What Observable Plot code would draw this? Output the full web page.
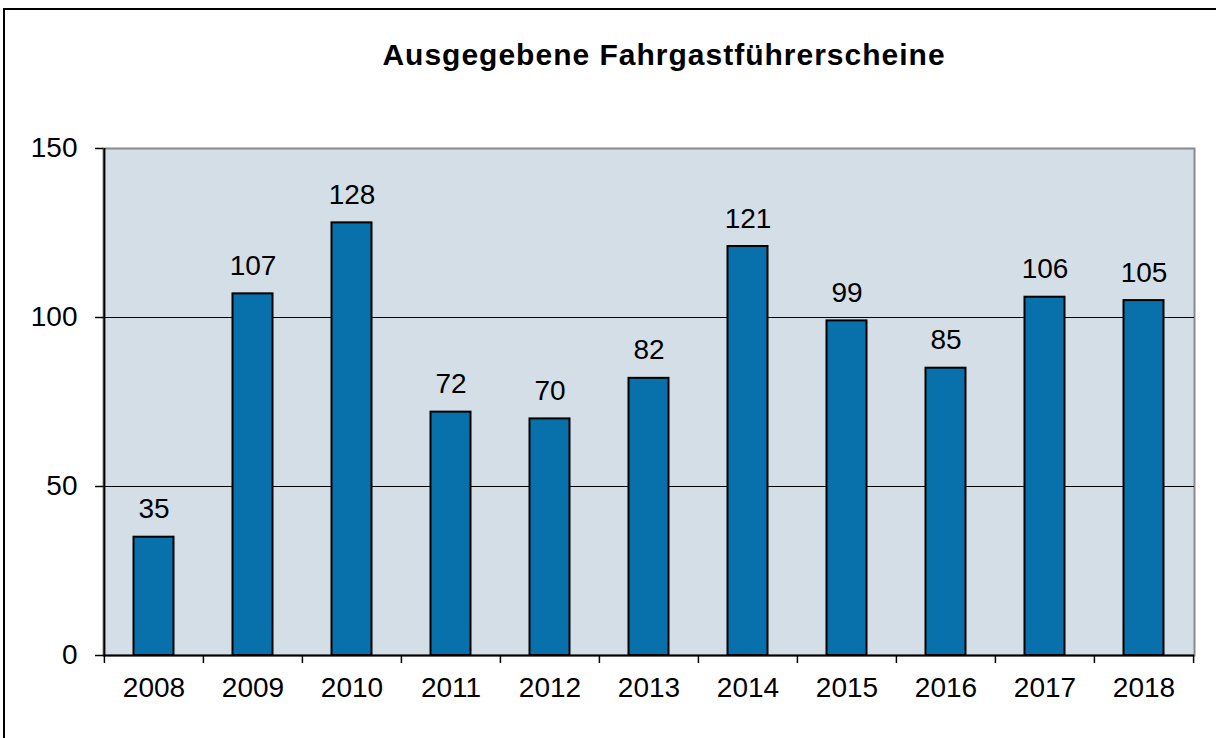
<!DOCTYPE html>
<html>
<head>
<meta charset="utf-8">
<script src="https://cdn.jsdelivr.net/npm/d3@7"></script>
<script src="https://cdn.jsdelivr.net/npm/@observablehq/plot@0.6"></script>
<style>
  html, body { margin: 0; padding: 0; background: #fff; }
  #wrap { position: relative; width: 1216px; height: 738px; overflow: hidden; font-family: "Liberation Sans", Arial, sans-serif; }
  #frame { position: absolute; left: 3px; top: 8px; width: 1240px; height: 760px; border-top: 2px solid #000; border-left: 2px solid #000; }
  #title { position: absolute; left: 0; width: 1328px; top: 40px; line-height: 30px; text-align: center; font-weight: bold; font-size: 30px; letter-spacing: 1px; color: #000; }
  #chart { position: absolute; left: 0; top: 0; }
</style>
</head>
<body>
<div id="wrap">
  <div id="frame"></div>
  <div id="chart"></div>
  <div id="title">Ausgegebene Fahrgastführerscheine</div>
</div>
<script>
const years = ["2008","2009","2010","2011","2012","2013","2014","2015","2016","2017","2018"];
const values = [35, 107, 128, 72, 70, 82, 121, 99, 85, 106, 105];
const yTicks = [0, 50, 100, 150];
const gridTicks = [50, 100];

const data = years.map((y, i) => ({year: y, value: values[i]}));

const W = 1216, H = 738;
const mL = 103, mR = 22, mT = 148, mB = 83;
const step = (W - mL - mR) / years.length;

const chart = Plot.plot({
  width: W,
  height: H,
  marginLeft: mL,
  marginRight: mR,
  marginTop: mT,
  marginBottom: mB,
  style: {fontFamily: '"Liberation Sans", Arial, sans-serif', fontSize: "28px", color: "#000", background: "transparent"},
  x: {type: "band", domain: years, padding: 0, axis: null},
  y: {type: "linear", domain: [0, 150], axis: null},
  marks: [
    Plot.frame({fill: "#D4DEE7", stroke: "#8a8a8a", strokeWidth: 2}),
    Plot.ruleY(gridTicks, {stroke: "#000", strokeWidth: 1}),
    Plot.barY(data, {x: "year", y: "value", fill: "#0870AA", stroke: "#000", strokeWidth: 2, insetLeft: 29.5, insetRight: 29.5}),
    Plot.text(data, {x: "year", y: "value", text: d => String(d.value), lineAnchor: "bottom", dy: -19, fontSize: 28, fill: "#000"}),
    // axis lines
    Plot.ruleX([years[0]], {x: d => d, dx: -step / 2, y1: 0, y2: 150, stroke: "#000", strokeWidth: 2}),
    Plot.ruleY([0], {stroke: "#000", strokeWidth: 2}),
    // y axis with ticks
    Plot.axisY({ticks: yTicks, tickSize: 8, tickPadding: 18, fontSize: 28, stroke: "#000", strokeWidth: 1.5, label: null}),
    // x ticks at band boundaries
    Plot.ruleX(years, {x: d => d, dx: -step / 2, y1: 0, y2: 0, insetBottom: -8, stroke: "#000", strokeWidth: 1.5}),
    Plot.ruleX([years[years.length - 1]], {x: d => d, dx: step / 2, y1: 0, y2: 0, insetBottom: -8, stroke: "#000", strokeWidth: 1.5}),
    Plot.axisX({tickSize: 0, tickPadding: 22, fontSize: 28, label: null})
  ]
});

document.getElementById("chart").appendChild(chart);
</script>
</body>
</html>
